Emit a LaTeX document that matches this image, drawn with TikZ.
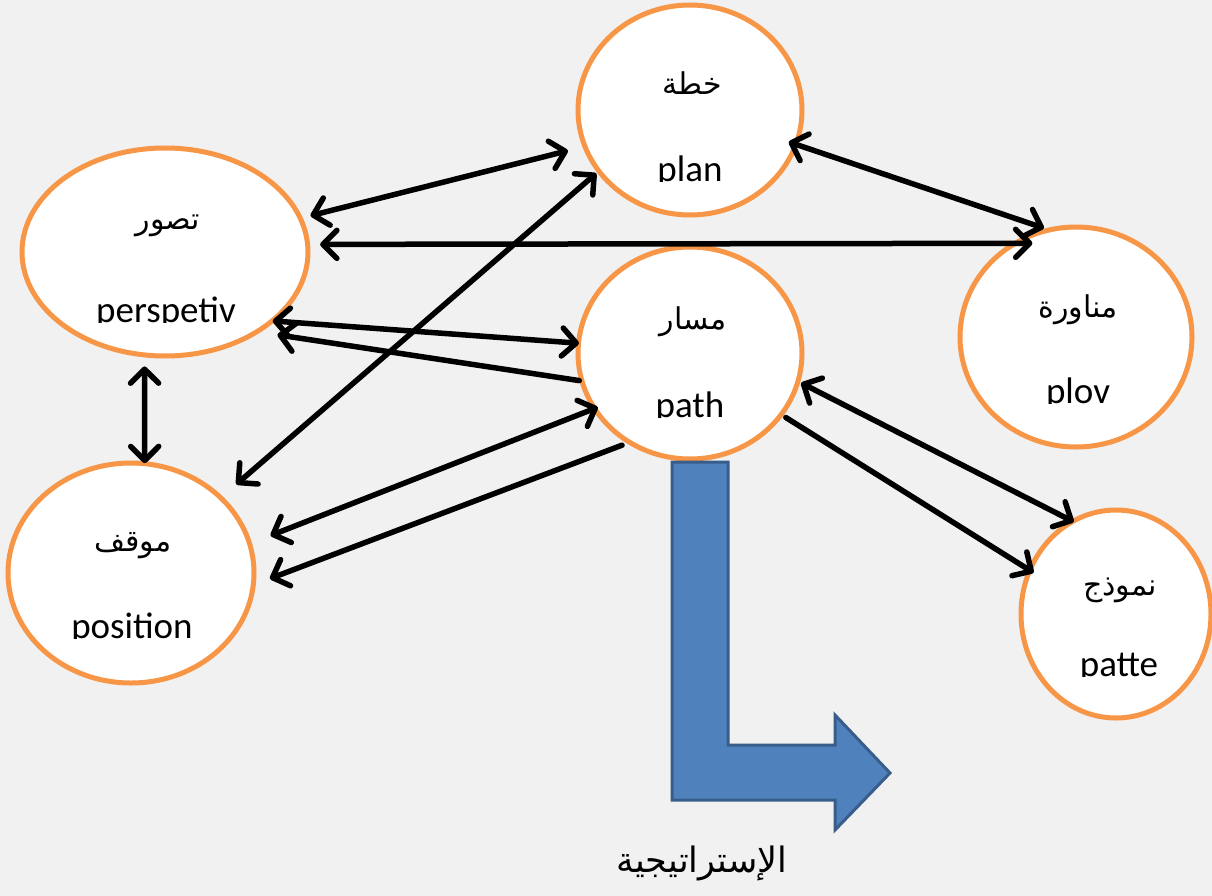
\documentclass[tikz,border=0pt]{standalone}
\usepackage{fontspec}
\setmainfont{Carlito}
\newfontfamily\arabicfont[Script=Arabic]{DejaVu Sans}
\TeXXeTstate=1
\usetikzlibrary{shapes.geometric,arrows.meta}
\definecolor{bgcol}{HTML}{F1F1F1}
\definecolor{ringcol}{HTML}{F79646}
\definecolor{bentfill}{HTML}{4F81BD}
\definecolor{bentline}{HTML}{385D8A}

\begin{document}
\begin{tikzpicture}[
		x=1pt,y=-1pt,
		every node/.style={inner sep=0pt},
		idea/.style={ellipse,draw=ringcol,fill=white,line width=5pt},
		ar/.style={font=\arabicfont\fontsize{30}{36}\selectfont},
		arbig/.style={font=\arabicfont\fontsize{35}{40}\selectfont},
		lat/.style={font=\fontsize{37}{42}\selectfont,anchor=base},
		>={Straight Barb[round,length=14pt,width=28pt]},
		link/.style={line width=5.5pt,line cap=round},
		bent/.style={fill=bentfill,draw=bentline,line width=3pt,line join=miter}
		]
		\useasboundingbox (0,0) rectangle (1212,896);
		\fill[bgcol] (0,0) rectangle (1212,896);
		
		% the six ideas
		\node[idea,minimum width=286pt,minimum height=208pt] (pers) at (165,252) {};
		\node[idea,minimum width=224pt,minimum height=210pt] (plan) at (690,110) {};
		\node[idea,minimum width=224pt,minimum height=212pt] (path) at (690,353) {};
		\node[idea,minimum width=232pt,minimum height=220pt] (plov) at (1076,337) {};
		\node[idea,minimum width=190pt,minimum height=208pt] (patte) at (1116,614) {};
		\node[idea,minimum width=246pt,minimum height=220pt] (posn) at (131,573) {};
		
		\node[ar] (persAr) at (168,226) {\beginR تصور\endR};
		\node[ar] (planAr) at (692,83) {\beginR خطة\endR};
		\node[ar] (pathAr) at (693,322) {\beginR مسار\endR};
		\node[ar] (plovAr) at (1078,310) {\beginR مناورة\endR};
		\node[ar] (patteAr) at (1120,590) {\beginR نموذج\endR};
		\node[ar] (posnAr) at (133,546) {\beginR موقف\endR};
		
		% english words, cut at the line
		\foreach \nm/\px/\py/\txt in {persEn/166/322/perspetiv,planEn/690/182/plan,
			pathEn/690/417/path,plovEn/1078/403/plov,patteEn/1119/676/patte,posnEn/132/638/position}{
			\begin{scope}
				\clip (\px-110,\py-60) rectangle (\px+110,\py);
				\node[lat] (\nm) at (\px,\py) {\txt};
			\end{scope}
		}
		
		% links
		\draw[link,<->,shorten <=8pt,shorten >=15pt] (pers.14) -- (plan.199);
		\draw[link,<->,shorten <=10pt,shorten >=-22pt] (pers.3.3) -- (plov.125.8);
		\draw[link,<->,shorten <=-10pt,shorten >=1pt] (plan.342) -- (plov.106);
		\draw[link,<->,shorten <=-3pt,shorten >=-3pt] (pers.328) -- (path.175);
		\draw[link,->,shorten >=17pt] (path.194.5) -- (pers.320);
		\draw[link,<->,shorten <=9pt,shorten >=-2pt] (pers.259.3) -- (posn.83.8);
		\draw[link,<->,shorten <=18pt,shorten >=1pt] (posn.40.6) -- (plan.214.4);
		\draw[link,<->,shorten <=-6pt,shorten >=20pt] (path.210.6) -- (posn.14.6);
		\draw[link,->,shorten <=5pt,shorten >=15pt] (path.235.8) -- (posn.355.6);
		\draw[link,<->,shorten <=1pt,shorten >=-4pt] (path.345.1) -- (patte.116.8);
		\draw[link,->,shorten <=3pt,shorten >=-7pt] (path.326.4) -- (patte.153.4);
		
		% bent arrow
		\draw[bent] (672,462) -- (728,462) -- (728,745) -- (835,745) -- (835,715)
			-- (890,773) -- (835,830) -- (835,800) -- (672,800) -- cycle;
		\node[arbig] (strat) at (702,863) {\beginR الإستراتيجية\endR};
		
		\end{tikzpicture}
\end{document}
